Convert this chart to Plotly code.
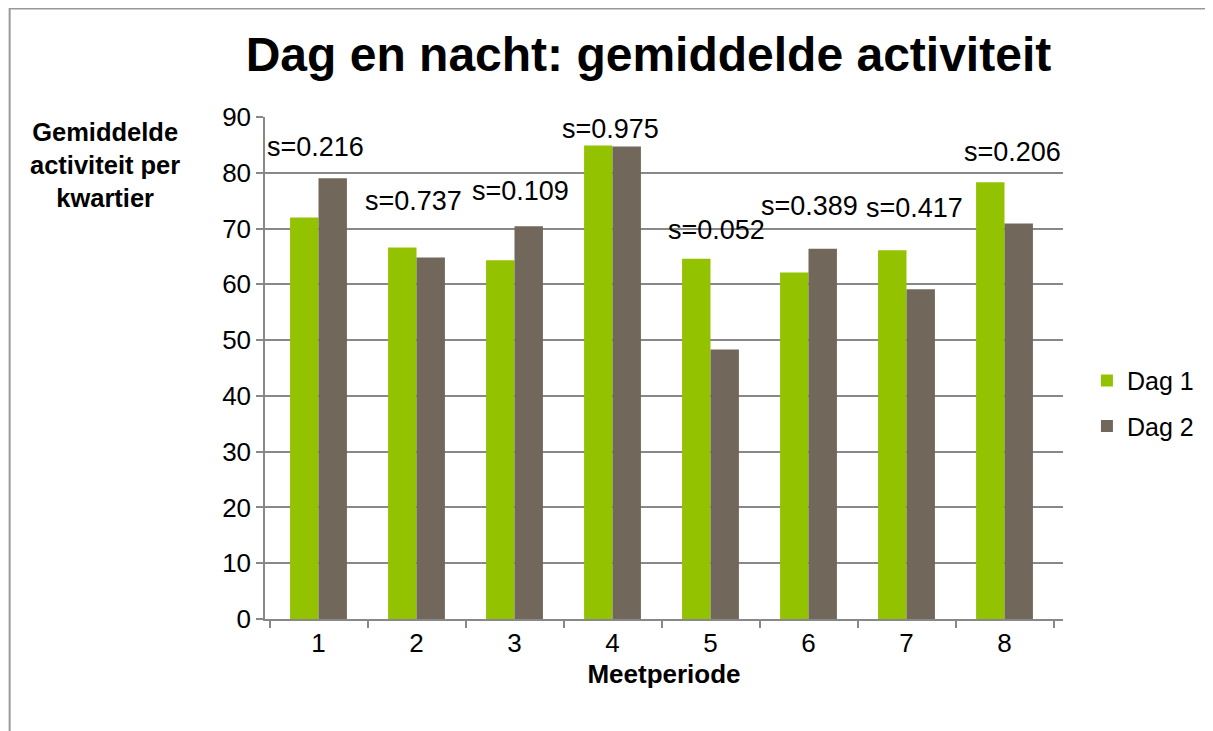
import plotly.graph_objects as go

# data
periods = ["1", "2", "3", "4", "5", "6", "7", "8"]
dag1 = [72.0, 66.6, 64.3, 84.9, 64.6, 62.1, 66.1, 78.3]
dag2 = [79.0, 64.8, 70.4, 84.7, 48.3, 66.4, 59.1, 70.9]
s_labels = ["s=0.216", "s=0.737", "s=0.109", "s=0.975", "s=0.052", "s=0.389", "s=0.417", "s=0.206"]

# where the s= labels sit (data units), and small horizontal nudges in px
label_y = [84.6, 74.9, 76.7, 87.8, 69.7, 74.1, 73.6, 83.8]
label_dx = [-3, -3, 6, -2, 6, 1, 8, 8]

GREEN = "#93C300"
GREY = "#71685B"
AXIS = "#888888"
FONT = "Liberation Sans, Arial, sans-serif"

fig = go.Figure()
fig.add_trace(go.Bar(x=periods, y=dag1, name="Dag 1", legendgroup="d1",
                     marker=dict(color=GREEN, line=dict(width=0))))
fig.add_trace(go.Bar(x=periods, y=dag2, name="Dag 2", legendgroup="d2",
                     marker=dict(color=GREY, line=dict(width=0))))

annotations = []
# category axis: annotations placed by category index
for i, (txt, y, dx) in enumerate(zip(s_labels, label_y, label_dx)):
    annotations.append(dict(x=i, y=y, text=txt, showarrow=False, xshift=dx,
                            font=dict(size=27, color="black", family=FONT)))

annotations.append(dict(
    x=-0.2, y=0.905, xref="paper", yref="paper", xanchor="center", yanchor="middle",
    text="<b>Gemiddelde<br>activiteit per<br>kwartier</b>", showarrow=False,
    font=dict(size=25.5, color="black", family=FONT), align="center",
))

# page body has an 8px margin, margins are shifted to compensate
fig.update_layout(
    width=1213, height=731,
    margin=dict(l=257, r=158, t=109, b=120),
    paper_bgcolor="white", plot_bgcolor="white",
    font=dict(family=FONT, color="black"),
    title=dict(text="<b>Dag en nacht: gemiddelde activiteit</b>", x=0.528, xanchor="center",
               y=0.937, yanchor="middle", font=dict(size=48, color="black", family=FONT)),
    barmode="group", bargap=0.42, bargroupgap=0,
    showlegend=True,
    legend=dict(x=1.03, y=0.43, xanchor="left", yanchor="middle", tracegroupgap=10,
                font=dict(size=25, family=FONT), itemwidth=30),
    annotations=annotations,
    shapes=[dict(type="rect", xref="paper", yref="paper",
                 x0=-0.32, x1=1.3, y0=-0.3, y1=1.216,
                 line=dict(color="#999999", width=2), layer="below")],
    xaxis=dict(
        type="category", tickson="boundaries", ticks="outside", ticklen=7,
        tickcolor=AXIS, tickwidth=1.5, showline=True, linecolor=AXIS, linewidth=1.5,
        showgrid=False, tickfont=dict(size=26),
        title=dict(text="<b>Meetperiode</b>", font=dict(size=26), standoff=8),
    ),
    yaxis=dict(
        range=[0, 90], dtick=10, showgrid=True, gridcolor=AXIS, gridwidth=1.5,
        showline=True, linecolor=AXIS, linewidth=1.5, ticks="outside", ticklen=7,
        tickcolor=AXIS, tickwidth=1.5, tickfont=dict(size=26), zeroline=False,
    ),
)

fig.write_html("out.html")
